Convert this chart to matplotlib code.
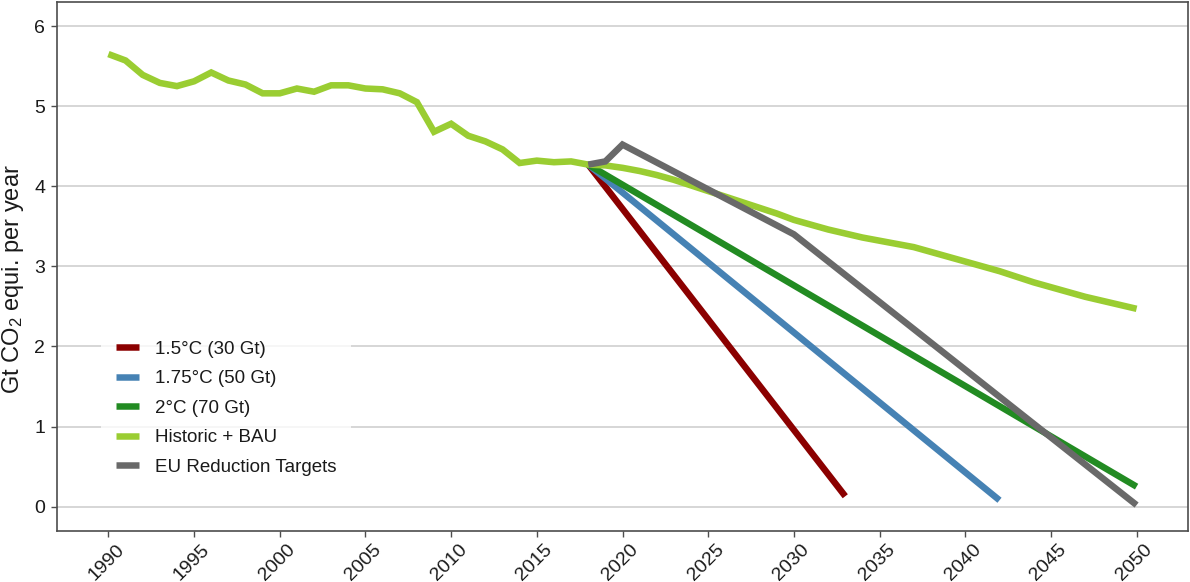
import matplotlib
matplotlib.use("Agg")
import matplotlib.pyplot as plt
from matplotlib.transforms import ScaledTranslation
from matplotlib.lines import Line2D

plt.rcParams['font.family'] = ['Liberation Sans', 'DejaVu Sans']
plt.rcParams['mathtext.fontset'] = 'custom'
plt.rcParams['mathtext.rm'] = 'Liberation Sans'
plt.rcParams['mathtext.it'] = 'Liberation Sans:italic'

# Historic + BAU series (Gt CO2 eq per year)
hist_years = list(range(1990, 2051))
hist_values = [5.65, 5.57, 5.39, 5.29, 5.25, 5.31, 5.42, 5.32, 5.27, 5.16,
               5.16, 5.22, 5.18, 5.26, 5.26, 5.22, 5.21, 5.16, 5.05, 4.68,
               4.78, 4.63, 4.56, 4.46, 4.29, 4.32, 4.30, 4.31, 4.27, 4.26,
               4.23, 4.19, 4.14, 4.08, 4.01, 3.94, 3.87, 3.80, 3.73, 3.66,
               3.58, 3.52, 3.46, 3.41, 3.36, 3.32, 3.28, 3.24, 3.18, 3.12,
               3.06, 3.00, 2.94, 2.87, 2.80, 2.74, 2.68, 2.62, 2.57, 2.52,
               2.47]

# Reduction pathways
p15_years = [2018, 2033]
p15_values = [4.27, 0.13]
p175_years = [2018, 2042]
p175_values = [4.27, 0.08]
p2_years = [2018, 2050]
p2_values = [4.27, 0.25]
eu_years = [2018, 2019, 2020, 2030, 2050]
eu_values = [4.27, 4.31, 4.52, 3.40, 0.02]

labels = ["1.5°C (30 Gt)", "1.75°C (50 Gt)", "2°C (70 Gt)", "Historic + BAU", "EU Reduction Targets"]
colors = ["#8b0000", "#4682b4", "#228b22", "#9acd32", "#696969"]
xticks = list(range(1990, 2051, 5))
yticks = [0, 1, 2, 3, 4, 5, 6]

W, H, DPI = 1190, 582, 100
fig = plt.figure(figsize=(W / DPI, H / DPI), dpi=DPI)
ax = fig.add_axes([57 / W, 1 - 530.7 / H, (1188 - 57) / W, (530.7 - 2) / H])

lw = 4.7
series = [(p15_years, p15_values), (p175_years, p175_values), (p2_years, p2_values),
          (hist_years, hist_values), (eu_years, eu_values)]
for (xs, ys), c in zip(series, colors):
    ax.plot(xs, ys, color=c, lw=lw, solid_joinstyle='miter', solid_capstyle='butt')

ax.set_xlim(1987, 2053)
ax.set_ylim(-0.3, 6.3)
ax.set_yticks(yticks)
ax.set_xticks(xticks)
ax.yaxis.grid(True, color='#cccccc', lw=1.1)
ax.xaxis.grid(False)
ax.set_axisbelow(True)
for s in ax.spines.values():
    s.set_color('#4d4d4d')
    s.set_linewidth(1.2)

ax.tick_params(axis='both', direction='out', length=4.5, width=1.0, color='#4d4d4d',
               labelsize=14, labelcolor='#1a1a1a')
ax.tick_params(axis='y', pad=4)
ax.tick_params(axis='x', pad=3)
offset = ScaledTranslation(7 / DPI, 0, fig.dpi_scale_trans)
for lab in ax.get_xticklabels():
    lab.set_rotation(45)
    lab.set_ha('right')
    lab.set_va('top')
    lab.set_rotation_mode('anchor')
    lab.set_transform(lab.get_transform() + offset)

ax.set_ylabel("Gt CO$_2$ equi. per year", fontsize=17, color='#1a1a1a')
ax.yaxis.set_label_coords(-0.027, 0.476)

handles = [Line2D([0], [0], color=c, lw=6.5 * 72 / DPI, solid_capstyle='butt') for c in colors]
leg = ax.legend(handles, labels, loc='upper left', bbox_to_anchor=(0.039, 0.388),
                frameon=True, fontsize=13.5, handlelength=1.22, handletextpad=0.85,
                labelspacing=0.66, borderpad=0.8, borderaxespad=0, fancybox=False)
leg.get_frame().set_facecolor('white')
leg.get_frame().set_edgecolor('none')
for t in leg.get_texts():
    t.set_color('#1a1a1a')

fig.savefig("out.png", dpi=DPI)
